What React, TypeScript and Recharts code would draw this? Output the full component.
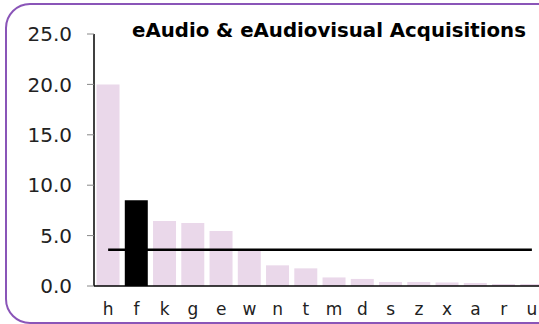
import { ComposedChart, Bar, Line, Cell, XAxis, YAxis } from "recharts";

const categories = ["h", "f", "k", "g", "e", "w", "n", "t", "m", "d", "s", "z", "x", "a", "r", "u"];
const acquisitions = [20.0, 8.5, 6.45, 6.25, 5.45, 3.5, 2.05, 1.75, 0.85, 0.7, 0.4, 0.4, 0.35, 0.3, 0.2, 0.2];
const average = 3.6;
const highlighted = "f";
const yTicks = [0, 5, 10, 15, 20, 25];

const data = categories.map((name, i) => ({ name, value: acquisitions[i], avg: average }));

const FONT = "'DejaVu Sans', Verdana, sans-serif";

export default function App() {
  return (
    <div
      style={{
        position: "fixed",
        left: 0,
        top: 0,
        width: 539,
        height: 324,
        overflow: "hidden",
        background: "#fff",
        fontFamily: FONT,
      }}
    >
      <div
        style={{
          position: "absolute",
          left: 5,
          top: 3,
          width: 570,
          height: 317,
          border: "2px solid #8a55b8",
          borderRadius: 25,
        }}
      />
      <div
        style={{
          position: "absolute",
          left: 132,
          top: 19,
          fontSize: 19.75,
          fontWeight: "bold",
          color: "#000",
          whiteSpace: "nowrap",
        }}
      >
        eAudio &amp; eAudiovisual Acquisitions
      </div>
      <div style={{ position: "absolute", left: 0, top: 0 }}>
        <ComposedChart
          width={552}
          height={324}
          data={data}
          margin={{ top: 34, right: 6, bottom: 8, left: 0 }}
          barCategoryGap="9%"
        >
          <XAxis
            dataKey="name"
            axisLine={{ stroke: "#000", strokeWidth: 1.5 }}
            tickLine={false}
            tickSize={8}
            tickMargin={9}
            height={30}
            interval={0}
            tick={{ fill: "#222", fontSize: 17, fontFamily: FONT }}
          />
          <YAxis
            domain={[0, 25]}
            ticks={yTicks}
            width={94}
            axisLine={{ stroke: "#000", strokeWidth: 1.5 }}
            tickLine={{ stroke: "#888" }}
            tickSize={7}
            tickMargin={15}
            tickFormatter={(v: number) => v.toFixed(1)}
            tick={{ fill: "#222", fontSize: 20, fontFamily: FONT }}
          />
          <Bar dataKey="value" isAnimationActive={false}>
            {data.map((d, i) => (
              <Cell key={`cell-${i}`} fill={d.name === highlighted ? "#000" : "#ead8ea"} />
            ))}
          </Bar>
          <Line
            dataKey="avg"
            stroke="#000"
            strokeWidth={2.5}
            dot={false}
            activeDot={false}
            isAnimationActive={false}
          />
        </ComposedChart>
      </div>
    </div>
  );
}
